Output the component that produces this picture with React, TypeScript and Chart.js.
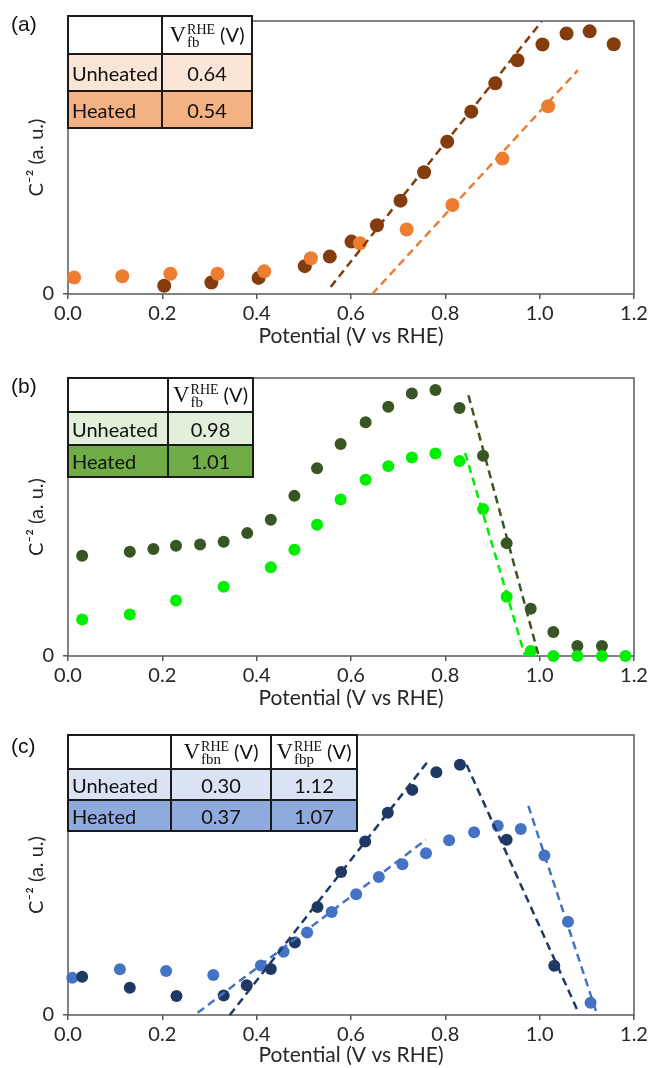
import React, { useEffect, useRef } from 'react';
import { Chart, registerables } from 'chart.js';

Chart.register(...registerables);

// ---------- shared axis ticks ----------
const xTickValues = [0, 0.2, 0.4, 0.6, 0.8, 1.0, 1.2];
const yTickValues = [0];

// ---------- panel (a) ----------
const aHeatedX = [0.204, 0.304, 0.404, 0.502, 0.555, 0.601, 0.655, 0.705, 0.755, 0.804, 0.855, 0.906, 0.953, 1.006, 1.057, 1.106, 1.157];
const aHeatedY = [3.0, 4.2, 5.9, 10.2, 13.7, 19.2, 25.2, 34.2, 44.6, 55.8, 66.8, 77.2, 85.6, 91.4, 95.4, 96.2, 91.5];
const aUnheatedX = [0.013, 0.115, 0.217, 0.317, 0.416, 0.515, 0.619, 0.718, 0.815, 0.921, 1.018];
const aUnheatedY = [6.0, 6.5, 7.4, 7.4, 8.3, 13.1, 18.6, 23.6, 32.6, 49.6, 68.8];
const aHeatedFitX = [0.557, 1.004];
const aHeatedFitY = [2.6, 99.8];
const aUnheatedFitX = [0.645, 1.081];
const aUnheatedFitY = [0, 82.0];
const aRows = ['Unheated', 'Heated'];
const aVfb = ['0.64', '0.54'];

// ---------- panel (b) ----------
const bHeatedX = [0.030, 0.131, 0.181, 0.229, 0.280, 0.330, 0.380, 0.430, 0.480, 0.528, 0.578, 0.631, 0.679, 0.729, 0.779, 0.830, 0.880, 0.930, 0.981, 1.029, 1.080, 1.132];
const bHeatedY = [36.1, 37.5, 38.5, 39.7, 40.1, 41.1, 44.2, 49.0, 57.6, 67.5, 76.3, 84.1, 89.7, 94.4, 95.7, 89.2, 72.0, 40.6, 17.0, 8.6, 3.6, 3.6];
const bUnheatedX = [0.030, 0.131, 0.229, 0.330, 0.430, 0.480, 0.528, 0.578, 0.631, 0.679, 0.729, 0.779, 0.830, 0.880, 0.930, 0.981, 1.029, 1.080, 1.132, 1.182];
const bUnheatedY = [13.1, 14.9, 20.0, 24.9, 31.9, 38.2, 47.2, 56.3, 63.4, 68.3, 71.4, 72.8, 70.1, 52.9, 21.3, 1.8, 0, 0, 0, 0];
const bHeatedFitX = [0.849, 0.998];
const bHeatedFitY = [93.8, 0];
const bUnheatedFitX = [0.842, 0.969];
const bUnheatedFitY = [73.1, 0];
const bRows = ['Unheated', 'Heated'];
const bVfb = ['0.98', '1.01'];

// ---------- panel (c) ----------
const cHeatedX = [0.030, 0.131, 0.230, 0.330, 0.379, 0.430, 0.481, 0.529, 0.579, 0.630, 0.678, 0.730, 0.781, 0.831, 0.930, 1.031];
const cHeatedY = [13.7, 9.7, 6.8, 7.0, 10.6, 16.4, 25.9, 38.6, 51.1, 62.0, 72.2, 80.4, 86.7, 89.4, 62.6, 17.6];
const cUnheatedX = [0.009, 0.110, 0.208, 0.308, 0.409, 0.457, 0.507, 0.559, 0.611, 0.659, 0.709, 0.759, 0.808, 0.861, 0.911, 0.960, 1.010, 1.060, 1.108];
const cUnheatedY = [13.3, 16.3, 15.7, 14.3, 17.7, 22.6, 29.5, 36.8, 43.1, 49.3, 53.8, 57.8, 62.4, 65.3, 67.6, 66.4, 57.0, 33.3, 4.4];
const cHeatedRiseX = [0.343, 0.766];
const cHeatedRiseY = [0, 91.2];
const cHeatedFallX = [0.845, 1.083];
const cHeatedFallY = [89.4, 0.6];
const cUnheatedRiseX = [0.275, 0.759];
const cUnheatedRiseY = [0.8, 62.6];
const cUnheatedFallX = [0.976, 1.121];
const cUnheatedFallY = [74.7, 0.6];
const cRows = ['Unheated', 'Heated'];
const cVfbn = ['0.30', '0.37'];
const cVfbp = ['1.12', '1.07'];

// ---------- styles ----------
const AXIS = '#595959';
const TXT = '#262626';
const FONT = 'Lato, "Open Sans", sans-serif';

const zip = (xs: number[], ys: number[]) => xs.map((x, i) => ({ x, y: ys[i] }));

const pts = (xs: number[], ys: number[], color: string, r: number, order: number) => ({
  data: zip(xs, ys),
  backgroundColor: color,
  borderColor: color,
  pointRadius: r,
  pointHoverRadius: r,
  pointBorderWidth: 0,
  showLine: false,
  clip: false as const,
  order,
});

const fit = (xs: number[], ys: number[], color: string) => ({
  data: zip(xs, ys),
  borderColor: color,
  backgroundColor: color,
  borderWidth: 2.5,
  borderDash: [8, 5],
  pointRadius: 0,
  showLine: true,
  clip: false as const,
  order: 0,
});

const boxPlugin = {
  id: 'plotBox',
  beforeDatasetsDraw(chart: any) {
    const { ctx, chartArea: a } = chart;
    ctx.save();
    ctx.strokeStyle = AXIS;
    ctx.lineWidth = 1.5;
    ctx.strokeRect(a.left, a.top, a.right - a.left, a.bottom - a.top);
    ctx.restore();
  },
};

type PanelProps = {
  top: number;
  height: number;
  plotTop: number;
  plotBottom: number;
  datasets: any[];
};

function Panel({ top, height, plotTop, plotBottom, datasets }: PanelProps) {
  const ref = useRef<HTMLCanvasElement>(null);
  useEffect(() => {
    const chart = new Chart(ref.current as HTMLCanvasElement, {
      type: 'scatter',
      data: { datasets },
      options: {
        responsive: false,
        animation: false,
        devicePixelRatio: 1,
        layout: { padding: { top: plotTop - top, right: 17, left: 0, bottom: 0 } },
        plugins: { legend: { display: false }, tooltip: { enabled: false } },
        scales: {
          x: {
            type: 'linear',
            min: 0,
            max: 1.2,
            afterBuildTicks: (ax: any) => {
              ax.ticks = xTickValues.map((v) => ({ value: v }));
            },
            afterFit: (s: any) => {
              s.height = top + height - plotBottom;
            },
            ticks: {
              callback: (v: any) => Number(v).toFixed(1),
              font: { family: FONT, size: 20 },
              color: TXT,
              padding: 3,
              maxRotation: 0,
              autoSkip: false,
            },
            grid: { display: true, drawOnChartArea: false, drawTicks: true, tickLength: 5, color: AXIS, lineWidth: 1.5 },
            border: { display: false },
            title: { display: true, text: 'Potential (V vs RHE)', font: { family: FONT, size: 21 }, color: TXT, padding: 0 },
          },
          y: {
            type: 'linear',
            min: 0,
            max: 100,
            afterBuildTicks: (ax: any) => {
              ax.ticks = yTickValues.map((v) => ({ value: v }));
            },
            afterFit: (s: any) => {
              s.width = 68;
            },
            ticks: {
              callback: (v: any) => String(v),
              font: { family: FONT, size: 20 },
              color: TXT,
              padding: 9,
            },
            grid: { display: true, drawOnChartArea: false, drawTicks: true, tickLength: 5, color: AXIS, lineWidth: 1.5 },
            border: { display: false },
            title: { display: true, text: 'C\u207B\u00B2 (a. u.)', font: { family: FONT, size: 20 }, color: TXT, padding: { top: 25, bottom: 0 } },
          },
        },
      },
      plugins: [boxPlugin],
    } as any);
    return () => chart.destroy();
  }, []);
  return (
    <canvas
      ref={ref}
      width={651}
      height={height}
      style={{ position: 'absolute', left: 0, top, width: 651, height }}
    />
  );
}

const BORDER = '2px solid #1a1a1a';

function HeaderLabel({ sub }: { sub: string }) {
  return (
    <span style={{ whiteSpace: 'nowrap' }}>
      <span style={{ fontFamily: '"Liberation Serif", serif', fontSize: 23 }}>V</span>
      <span
        style={{
          display: 'inline-flex',
          flexDirection: 'column',
          fontFamily: '"Liberation Serif", serif',
          fontSize: 14,
          lineHeight: '12px',
          verticalAlign: '8px',
          marginLeft: 1,
          textAlign: 'left',
        }}
      >
        <span>RHE</span>
        <span style={{ fontSize: 15 }}>{sub}</span>
      </span>
      <span style={{ fontFamily: FONT, fontSize: 20, marginLeft: 5 }}>(V)</span>
    </span>
  );
}

type TableProps = {
  left: number;
  top: number;
  colW: number[];
  rowH: number[];
  subs: string[];
  rows: string[];
  values: string[][];
  rowColors: string[];
};

function VTable({ left, top, colW, rowH, subs, rows, values, rowColors }: TableProps) {
  const cells: React.ReactNode[] = [];
  let y = 0;
  for (let r = 0; r < rowH.length; r++) {
    let x = 0;
    for (let c = 0; c < colW.length; c++) {
      let content: React.ReactNode = null;
      let align: 'flex-start' | 'center' = 'center';
      if (r === 0 && c > 0) content = <HeaderLabel sub={subs[c - 1]} />;
      if (r > 0 && c === 0) {
        content = rows[r - 1];
        align = 'flex-start';
      }
      if (r > 0 && c > 0) content = values[c - 1][r - 1];
      cells.push(
        <div
          key={`${r}-${c}`}
          style={{
            position: 'absolute',
            left: x,
            top: y,
            width: colW[c],
            height: rowH[r],
            boxSizing: 'border-box',
            borderRight: BORDER,
            borderBottom: BORDER,
            background: r === 0 ? '#ffffff' : rowColors[r - 1],
            display: 'flex',
            alignItems: 'center',
            justifyContent: align,
            paddingLeft: align === 'flex-start' ? 3 : 0,
            fontFamily: FONT,
            fontSize: 20,
            color: '#111',
          }}
        >
          {content}
        </div>
      );
      x += colW[c];
    }
    y += rowH[r];
  }
  const w = colW.reduce((s, v) => s + v, 0);
  const h = rowH.reduce((s, v) => s + v, 0);
  return (
    <div
      style={{
        position: 'absolute',
        left: left - 1,
        top: top - 1,
        width: w,
        height: h,
        borderTop: BORDER,
        borderLeft: BORDER,
      }}
    >
      {cells}
    </div>
  );
}

function PanelLabel({ text, top }: { text: string; top: number }) {
  return (
    <div
      style={{
        position: 'absolute',
        left: 11,
        top,
        fontFamily: '"Liberation Sans", Arial, sans-serif',
        fontSize: 21,
        lineHeight: '24px',
        color: '#111',
      }}
    >
      {text}
    </div>
  );
}

export default function App() {
  const aSets = [
    fit(aHeatedFitX, aHeatedFitY, '#843C0C'),
    fit(aUnheatedFitX, aUnheatedFitY, '#ED7D31'),
    pts(aUnheatedX, aUnheatedY, '#ED7D31', 7, 1),
    pts(aHeatedX, aHeatedY, '#843C0C', 7, 2),
  ];
  const bSets = [
    fit(bHeatedFitX, bHeatedFitY, '#375623'),
    fit(bUnheatedFitX, bUnheatedFitY, '#00EE00'),
    pts(bUnheatedX, bUnheatedY, '#00EE00', 6, 1),
    pts(bHeatedX, bHeatedY, '#375623', 6, 2),
  ];
  const cSets = [
    fit(cHeatedRiseX, cHeatedRiseY, '#1F3864'),
    fit(cHeatedFallX, cHeatedFallY, '#1F3864'),
    fit(cUnheatedRiseX, cUnheatedRiseY, '#4472C4'),
    fit(cUnheatedFallX, cUnheatedFallY, '#4472C4'),
    pts(cHeatedX, cHeatedY, '#1F3864', 6, 1),
    pts(cUnheatedX, cUnheatedY, '#4472C4', 6, 2),
  ];
  return (
    <div
      style={{
        position: 'absolute',
        left: 0,
        top: 0,
        width: 651,
        height: 1068,
        background: '#ffffff',
        overflow: 'hidden',
      }}
    >
      <Panel top={0} height={349} plotTop={16} plotBottom={294} datasets={aSets} />
      <Panel top={350} height={361} plotTop={378} plotBottom={656} datasets={bSets} />
      <Panel top={712} height={356} plotTop={735} plotBottom={1015} datasets={cSets} />

      <VTable
        left={68}
        top={16}
        colW={[94, 90]}
        rowH={[38, 37, 37]}
        subs={['fb']}
        rows={aRows}
        values={[aVfb]}
        rowColors={['#FBE5D6', '#F4B183']}
      />
      <VTable
        left={68}
        top={378}
        colW={[100, 85]}
        rowH={[34, 33, 32]}
        subs={['fb']}
        rows={bRows}
        values={[bVfb]}
        rowColors={['#E2EFDA', '#70AD47']}
      />
      <VTable
        left={68}
        top={735}
        colW={[103, 100, 86]}
        rowH={[34, 31, 31]}
        subs={['fbn', 'fbp']}
        rows={cRows}
        values={[cVfbn, cVfbp]}
        rowColors={['#DAE3F3', '#8FAADC']}
      />

      <PanelLabel text="(a)" top={12} />
      <PanelLabel text="(b)" top={374} />
      <PanelLabel text="(c)" top={734} />
    </div>
  );
}
